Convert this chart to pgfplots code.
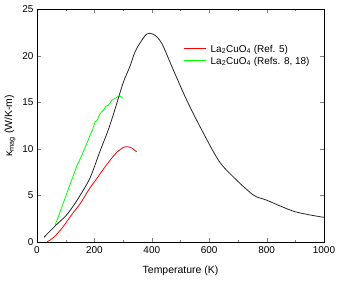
\documentclass[border=0pt]{standalone}
\usepackage{fontspec}
\setmainfont{Liberation Sans}
\usepackage{pgfplots}
\pgfplotsset{compat=1.18}
\begin{document}
\begin{tikzpicture}
\path[use as bounding box] (-37bp,-39bp) rectangle (301bp,242bp);
\begin{axis}[
  scale only axis,
  width=287bp, height=232.5bp,
  xmin=0, xmax=1000, ymin=0, ymax=25,
  xtick={0,200,...,1000},
  minor x tick num=1,
  ytick={0,5,...,25},
  tick align=inside,
  major tick length=4bp, minor tick length=2bp,
  axis line style={line width=0.8pt},
  /pgf/number format/assume math mode=true,
  /pgf/number format/set thousands separator={},
  ticklabel style={font=\fontsize{10}{12}\selectfont},
  xticklabel style={yshift=-1.5bp},
  xlabel={Temperature (K)},
  ylabel={κ\textsubscript{mag} (W/K-m)},
  label style={font=\fontsize{10.5}{12}\selectfont},
  xlabel style={at={(axis description cs:0.5,0)}, anchor=center, yshift=-29bp},
  ylabel style={at={(axis description cs:0,0.5)}, anchor=center, yshift=27bp},
  legend style={draw=none, fill=none, at={(0.50,0.86)}, anchor=north west,
    font=\fontsize{10}{12}\selectfont, row sep=-1.5bp, inner sep=1pt,
    nodes={text depth=2bp}},
  legend cell align=left,
]
\addlegendimage{empty legend}
\addlegendentry{\textcolor{red}{\rule[3.3bp]{22bp}{0.9bp}}\hspace{5bp}La\textsubscript{2}CuO\textsubscript{4} (Ref. 5)}
\addlegendimage{empty legend}
\addlegendentry{\textcolor{green}{\rule[3.3bp]{22bp}{0.9bp}}\hspace{5bp}La\textsubscript{2}CuO\textsubscript{4} (Refs. 8, 18)}
\addplot[forget plot, red, line width=0.8pt, smooth] coordinates {
(36,0.03) (60,0.55) (90,1.6) (120,2.9) (150,4.1) (180,5.6) (210,6.9) (240,8.2)
(260,9.0) (280,9.7) (300,10.15) (315,10.25) (330,10.1) (347,9.7)
};
\addplot[forget plot, green, line width=0.8pt] coordinates {
(63,1.8) (80,3.2) (100,4.9) (120,6.6) (138,8.1) (160,9.6) (179,11.0) (185,11.5)
(195,12.2) (202,12.9) (210,13.1) (218,13.7) (225,14.0) (232,14.2) (240,14.6)
(248,14.7) (254,14.9) (262,15.3) (270,15.4) (280,15.6) (289,15.7) (293,15.6) (298,15.45)
};
\addplot[forget plot, black!85, line width=0.8pt, smooth, tension=0.5] coordinates {
(24,0.5) (63,1.72) (100,2.8) (127,3.9) (150,5.0) (185,6.9) (220,9.8) (250,12.2)
(275,14.6) (300,17.1) (324,18.9) (341,20.4) (359,21.4) (382,22.35) (405,22.35)
(434,21.4) (475,18.5) (521,15.3) (568,12.4) (632,8.8) (684,7.0) (754,5.05)
(800,4.5) (899,3.26) (1000,2.65)
};
\end{axis}
\end{tikzpicture}
\end{document}
